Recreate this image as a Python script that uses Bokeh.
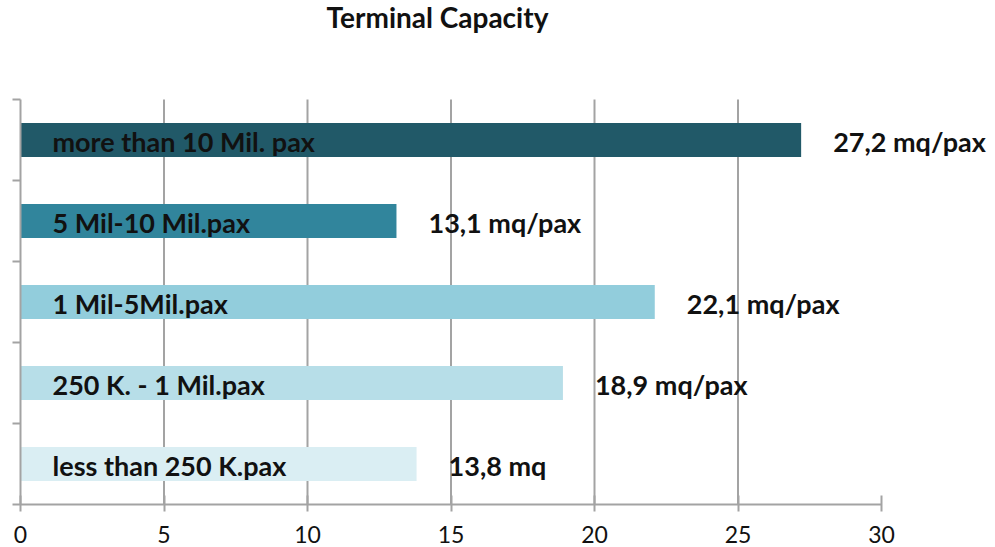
from bokeh.plotting import figure
from bokeh.models import Range1d, LinearAxis, FixedTicker, Label, ColumnDataSource
from bokeh.core.properties import value
from bokeh.embed import file_html
from bokeh.resources import INLINE

title_text = "Terminal Capacity"
categories = ["more than 10 Mil. pax", "5 Mil-10 Mil.pax", "1 Mil-5Mil.pax",
              "250 K. - 1 Mil.pax", "less than 250 K.pax"]
capacity = [27.2, 13.1, 22.1, 18.9, 13.8]
value_labels = ["27,2 mq/pax", "13,1 mq/pax", "22,1 mq/pax", "18,9 mq/pax", "13,8 mq"]
bar_colors = ["#215968", "#31859C", "#92CDDC", "#B7DEE8", "#DAEEF3"]
x_ticks = [0, 5, 10, 15, 20, 25, 30]
grid_ticks = [5, 10, 15, 20, 25]

n = len(categories)
y_pos = [n - i - 0.5 for i in range(n)]

W, H = 995, 547
px_per_x = 28.7
px_per_y = 81.0
left_px, top_px, bottom_px = 20, 99, 43

x_range = Range1d(-left_px / px_per_x, (W - left_px) / px_per_x)
y_range = Range1d(-bottom_px / px_per_y, n + top_px / px_per_y)

p = figure(width=W, height=H, x_range=x_range, y_range=y_range,
           output_backend="svg", toolbar_location=None,
           x_axis_location=None, y_axis_location=None,
           min_border=0)
p.outline_line_color = None
p.xgrid.visible = False
p.ygrid.visible = False
p.background_fill_color = "white"
p.border_fill_color = "white"

GRAY = "#a3a3a3"

# vertical gridlines
p.segment(x0=grid_ticks, y0=[0] * len(grid_ticks), x1=grid_ticks, y1=[n] * len(grid_ticks),
          line_color=GRAY, line_width=2)

src = ColumnDataSource(dict(y=y_pos, right=capacity, cat=categories,
                            lab=value_labels, color=bar_colors,
                            zero=[0] * n))

p.hbar(y="y", left="zero", right="right", height=0.42, fill_color="color",
       line_color=None, source=src)

FONT = "Lato"
p.text(x="zero", y="y", text="cat", source=src, x_offset=32, y_offset=1,
       text_font=value(FONT), text_font_style="bold", text_font_size="27px",
       text_baseline="middle", text_align="left", text_color="#111111")
p.text(x="right", y="y", text="lab", source=src, x_offset=32, y_offset=1,
       text_font=value(FONT), text_font_style="bold", text_font_size="27px",
       text_baseline="middle", text_align="left", text_color="#111111")

xaxis = LinearAxis(fixed_location=0, bounds=(0, 30), ticker=FixedTicker(ticks=x_ticks))
xaxis.axis_line_color = GRAY
xaxis.axis_line_width = 2
xaxis.major_tick_line_color = GRAY
xaxis.major_tick_line_width = 2
xaxis.major_tick_in = 9
xaxis.major_tick_out = 7
xaxis.minor_tick_line_color = None
xaxis.major_label_text_font = FONT
xaxis.major_label_text_font_size = "23px"
xaxis.major_label_text_color = "#111111"
xaxis.major_label_standoff = 14
p.add_layout(xaxis, "below")

yaxis = LinearAxis(fixed_location=0, bounds=(0, n), ticker=FixedTicker(ticks=list(range(n + 1))))
yaxis.axis_line_color = GRAY
yaxis.axis_line_width = 2
yaxis.major_tick_line_color = GRAY
yaxis.major_tick_line_width = 2
yaxis.major_tick_in = 0
yaxis.major_tick_out = 8
yaxis.minor_tick_line_color = None
yaxis.major_label_text_font_size = "0px"
yaxis.major_label_text_color = None
p.add_layout(yaxis, "left")

title = Label(x=14.53, y=n + 1.02, text=title_text, text_align="center",
              text_baseline="middle", text_font=FONT, text_font_style="bold",
              text_font_size="28px", text_color="#111111")
p.add_layout(title)

open("out.html", "w").write(file_html(p, INLINE))
